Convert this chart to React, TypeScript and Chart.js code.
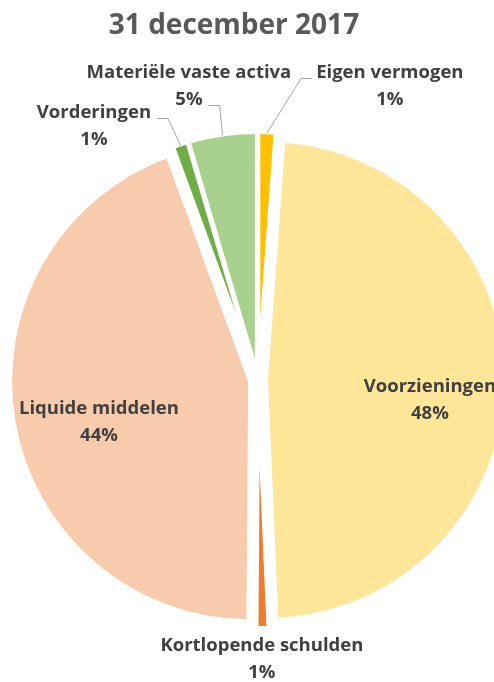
import React, { useEffect, useRef } from 'react';
import { Chart, registerables } from 'chart.js';

Chart.register(...registerables);

const title = '31 december 2017';
const categories = [
  'Eigen vermogen',
  'Voorzieningen',
  'Kortlopende schulden',
  'Liquide middelen',
  'Vorderingen',
  'Materiële vaste activa',
];
const values = [1.15, 48.16, 0.8, 44.31, 1.0, 4.58];
const colors = ['#FFC000', '#FFE699', '#ED7D31', '#F8CBAD', '#70AD47', '#A9D18E'];

const W = 494;
const H = 682;
const EXPLODE = 8;
const RADIUS = 240;
const FONT = '"Open Sans", "Liberation Sans", sans-serif';
const LABEL_SIZE = 18.5;
const LINE_GAP = 27;

type Leader = { line: number; side: 'left' | 'right' };
type Placement = { angle: number; dist: number; leader?: Leader };

// label block placement, polar around the pie centre (angle clockwise from top, dist in radii)
const labelLayout: Placement[] = [
  { angle: 24.1, dist: 1.345, leader: { line: 0, side: 'left' } },
  { angle: 96.5, dist: 0.721 },
  { angle: 179.2, dist: 1.16 },
  { angle: 255.3, dist: 0.685 },
  { angle: 327.2, dist: 1.262, leader: { line: 0, side: 'right' } },
  { angle: 346.8, dist: 1.26, leader: { line: 1, side: 'right' } },
];

const explodePlugin = {
  id: 'explodeSlices',
  beforeDatasetsDraw(chart: any) {
    const meta = chart.getDatasetMeta(0);
    meta.data.forEach((el: any) => {
      if (el.__exploded) return;
      const proto = Object.getPrototypeOf(el);
      el.draw = function (ctx: CanvasRenderingContext2D, area: any) {
        const mid = (this.startAngle + this.endAngle) / 2;
        ctx.save();
        ctx.translate(Math.cos(mid) * EXPLODE, Math.sin(mid) * EXPLODE);
        proto.draw.call(this, ctx, area);
        ctx.restore();
      };
      el.__exploded = true;
    });
  },
};

const labelPlugin = {
  id: 'sliceLabels',
  afterDatasetsDraw(chart: any) {
    const ctx: CanvasRenderingContext2D = chart.ctx;
    const meta = chart.getDatasetMeta(0);
    const total = values.reduce((a, b) => a + b, 0);
    ctx.save();
    ctx.textAlign = 'center';
    ctx.textBaseline = 'alphabetic';
    ctx.font = `bold 28px ${FONT}`;
    ctx.fillStyle = '#595959';
    ctx.fillText(title, 234, 34);

    meta.data.forEach((arc: any, i: number) => {
      const cx = arc.x;
      const cy = arc.y;
      const R = arc.outerRadius;
      const L = labelLayout[i];
      const t = (L.angle * Math.PI) / 180;
      const bx = cx + L.dist * R * Math.sin(t);
      const by = cy - L.dist * R * Math.cos(t);
      const lines = [categories[i], Math.round((values[i] / total) * 100) + '%'];
      ctx.font = `bold ${LABEL_SIZE}px ${FONT}`;
      ctx.fillStyle = '#404040';
      const baselines = [by - LINE_GAP / 2 + 6, by + LINE_GAP / 2 + 6];
      lines.forEach((s, k) => ctx.fillText(s, bx, baselines[k]));
      if (L.leader) {
        const w = ctx.measureText(lines[L.leader.line]).width;
        const ay = Math.round(baselines[L.leader.line]) + 0.5;
        const ax = L.leader.side === 'left' ? bx - w / 2 - 4 : bx + w / 2 + 6;
        const ex = L.leader.side === 'left' ? ax - 11 : ax + 11;
        const mid = (arc.startAngle + arc.endAngle) / 2;
        const px = cx + Math.cos(mid) * (R + EXPLODE - 1);
        const py = cy + Math.sin(mid) * (R + EXPLODE - 1);
        ctx.strokeStyle = '#A6A6A6';
        ctx.lineWidth = 1;
        ctx.beginPath();
        ctx.moveTo(ax, ay);
        ctx.lineTo(ex, ay);
        ctx.lineTo(px, py);
        ctx.stroke();
      }
    });
    ctx.restore();
  },
};

export default function App() {
  const ref = useRef<HTMLCanvasElement | null>(null);
  useEffect(() => {
    if (!ref.current) return;
    const chart = new Chart(ref.current, {
      type: 'pie',
      data: {
        labels: categories,
        datasets: [
          {
            data: values,
            backgroundColor: colors,
            borderColor: '#FFFFFF',
            borderWidth: 4,
            radius: RADIUS,
            clip: false,
          } as any,
        ],
      },
      options: {
        responsive: false,
        maintainAspectRatio: false,
        animation: false,
        events: [],
        layout: { padding: { left: 22, right: 0, top: 78, bottom: 0 } },
        plugins: {
          legend: { display: false },
          tooltip: { enabled: false },
          title: { display: false },
        },
      } as any,
      plugins: [explodePlugin, labelPlugin],
    });
    return () => chart.destroy();
  }, []);
  return (
    <div style={{ position: 'absolute', left: 0, top: 0, width: W, height: H, background: '#FFFFFF' }}>
      <canvas ref={ref} width={W} height={H} style={{ display: 'block' }} />
    </div>
  );
}
